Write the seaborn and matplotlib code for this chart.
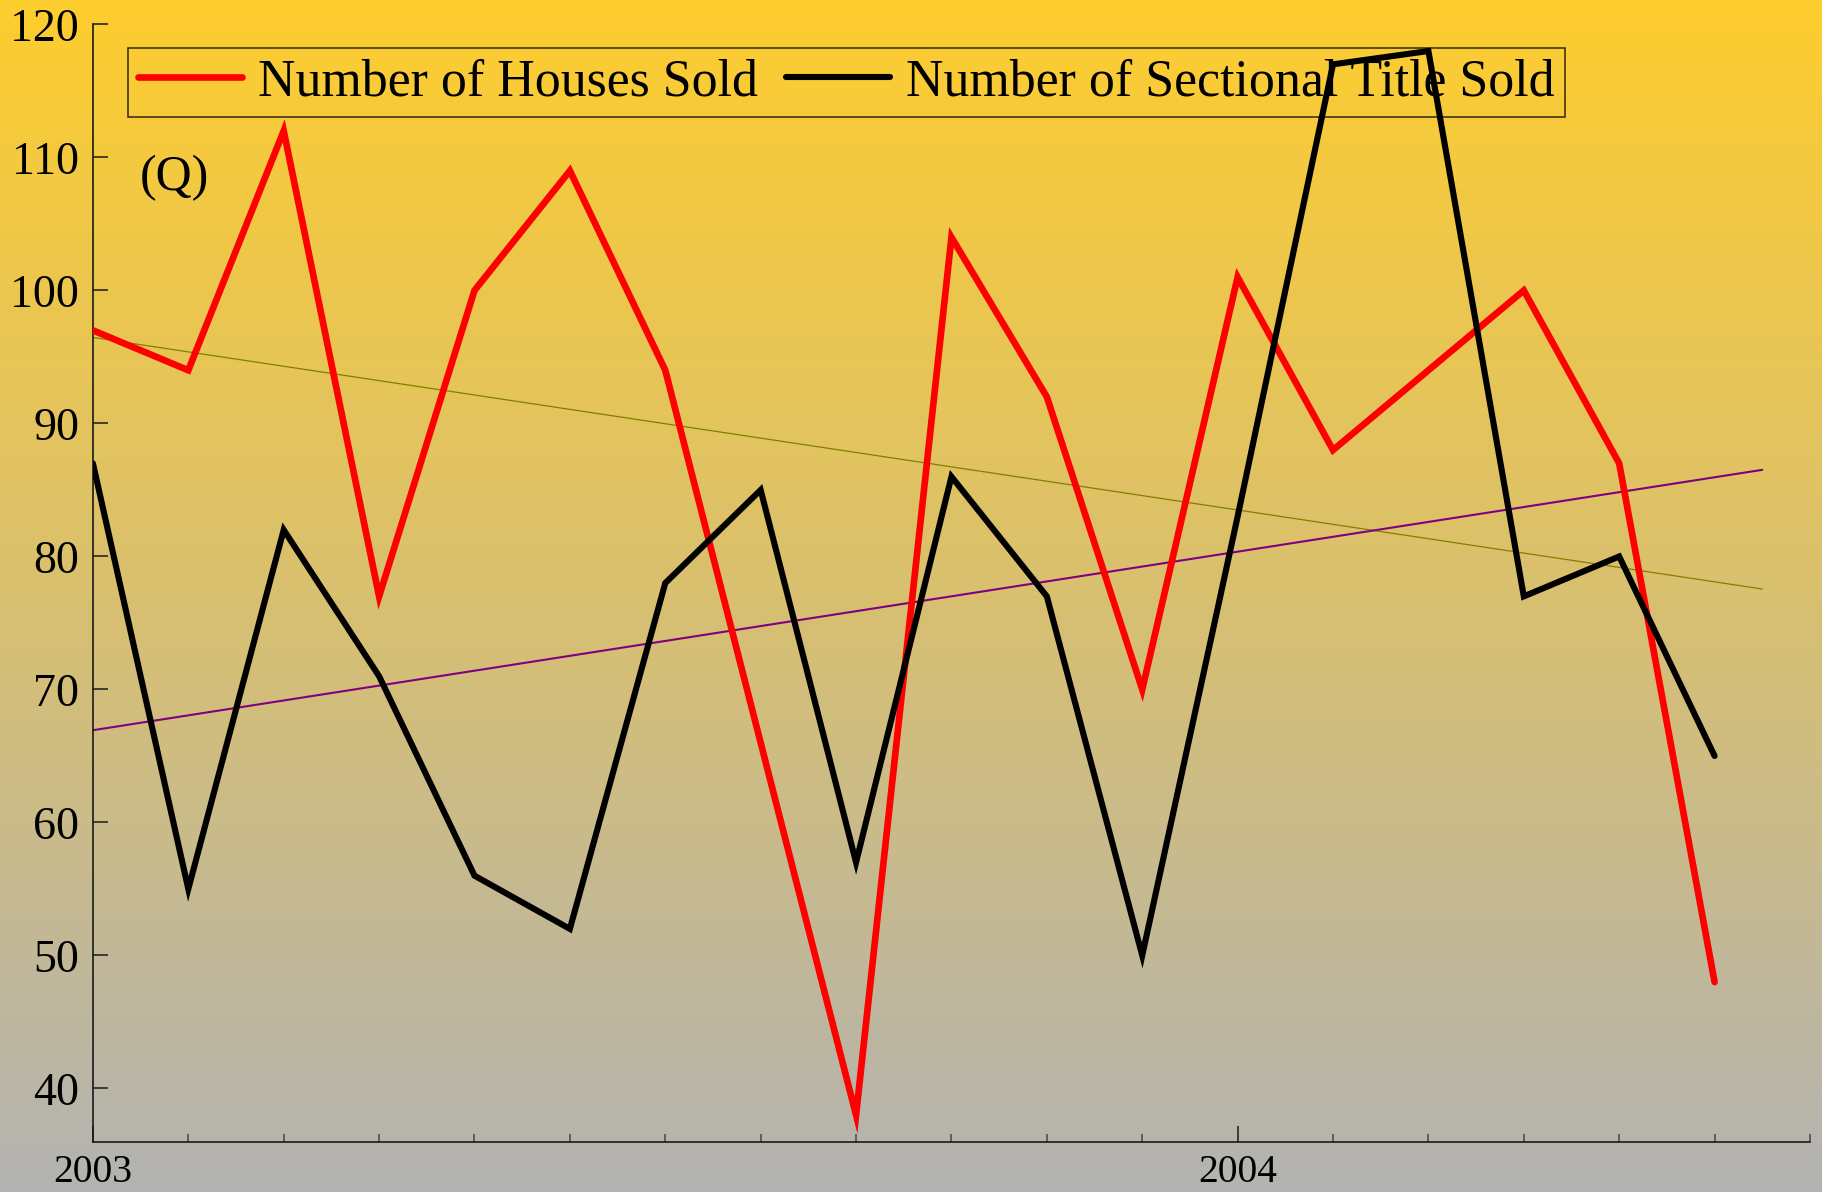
import numpy as np
import pandas as pd
import matplotlib
matplotlib.use("Agg")
import matplotlib.pyplot as plt
from matplotlib.colors import LinearSegmentedColormap
import seaborn as sns

# monthly sales, Jan 2003 .. Jun 2004
houses = [97, 94, 112, 77, 100, 109, 94, 66, 38, 104, 92, 70,
          101, 88, 94, 100, 87, 48]
sectional = [87, 55, 82, 71, 56, 52, 78, 85, 57, 86, 77, 50,
             83, 117, 118, 77, 80, 65]
years = ["2003", "2004"]
series_names = ["Number of Houses Sold", "Number of Sectional Title Sold"]

sns.set_theme(style="ticks")
plt.rcParams["font.family"] = ["Liberation Serif", "DejaVu Serif"]
plt.rcParams["text.color"] = "black"
plt.rcParams["xtick.labelcolor"] = "black"
plt.rcParams["ytick.labelcolor"] = "black"

months = np.arange(len(houses))
df = pd.DataFrame({"month": months, "houses": houses, "sectional": sectional})

fig = plt.figure(figsize=(18.22, 11.92), dpi=100)

# yellow -> grey gradient behind everything
bg = fig.add_axes([0, 0, 1, 1], zorder=-10)
cmap = LinearSegmentedColormap.from_list("bg", ["#b3b3b2", "#fecd2e"])
bg.imshow(np.linspace(0, 1, 256).reshape(-1, 1), aspect="auto", cmap=cmap,
          extent=[0, 1, 0, 1], origin="lower")
bg.axis("off")

ax = fig.add_axes([0.051, 0.0422, 0.9424, 0.9373])
ax.set_facecolor("none")

# linear trends
xt = np.array([0, len(houses) - 0.5])
for col, c, lw in [("houses", "#808000", 0.9), ("sectional", "#800080", 1.5)]:
    k, b = np.polyfit(df["month"], df[col], 1)
    sns.lineplot(x=xt, y=k * xt + b, color=c, lw=lw, ax=ax, zorder=1)

sns.lineplot(data=df, x="month", y="houses", color="#ff0000", lw=4.8,
             label=series_names[0], ax=ax, zorder=3, solid_joinstyle="miter")
sns.lineplot(data=df, x="month", y="sectional", color="black", lw=4.4,
             label=series_names[1], ax=ax, zorder=4, solid_joinstyle="miter")

ax.set_xlim(0, len(houses))
ax.set_ylim(36, 120)
ax.set_yticks(range(40, 121, 10))
ax.set_xticks(months[::12])
ax.set_xticklabels(years)
ax.set_xticks(np.arange(len(houses) + 1), minor=True)
ax.set_xlabel("")
ax.set_ylabel("")

sns.despine(ax=ax)
for s in ["left", "bottom"]:
    ax.spines[s].set_color("#1a1a1a")
    ax.spines[s].set_linewidth(1.2)
ax.tick_params(axis="y", direction="in", length=11, width=1.1,
               labelsize=33, pad=10, color="#1a1a1a")
ax.tick_params(axis="x", which="major", direction="in", length=11.5,
               width=1.1, labelsize=28.5, pad=9, color="#1a1a1a")
ax.tick_params(axis="x", which="minor", direction="in", length=6,
               width=1.1, color="#444444")

leg = ax.legend(loc="upper left", bbox_to_anchor=(128 / 1822, 1 - 48 / 1192),
                bbox_transform=fig.transFigure, ncol=2, fontsize=37.4,
                frameon=True, fancybox=False, edgecolor="black",
                facecolor="none", framealpha=None, handlelength=2.0,
                handletextpad=0.3, columnspacing=0.55, borderpad=0.2,
                borderaxespad=0)
leg.get_frame().set_linewidth(1.1)
leg.set_zorder(2)

ax.text(140 / 1822, 1 - 178 / 1192, "(Q)", transform=fig.transFigure,
        fontsize=36, va="center", ha="left")

fig.savefig("out.png", dpi=100)
